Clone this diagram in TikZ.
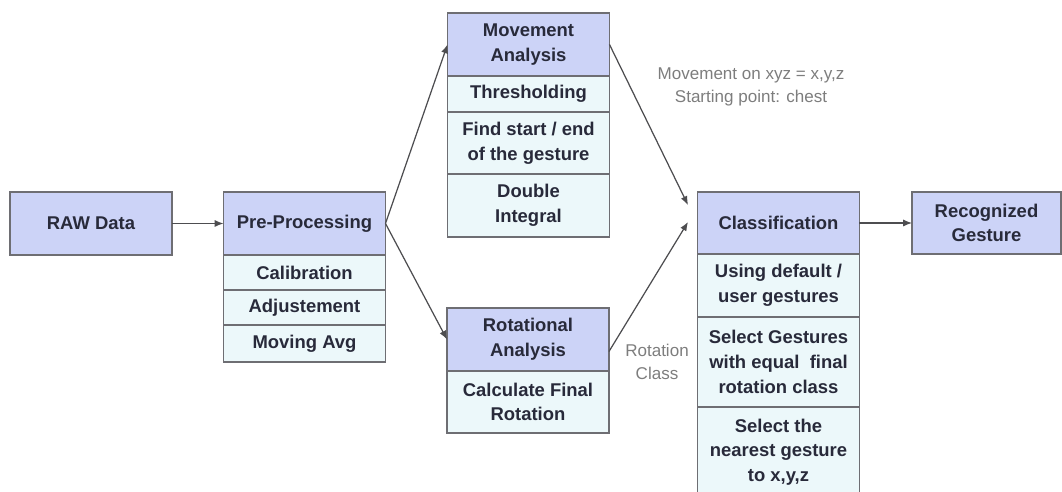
\documentclass[tikz,border=0pt]{standalone}
\usepackage{fontspec}
\setmainfont{Liberation Sans}
\usetikzlibrary{arrows.meta,calc,positioning}
\definecolor{headblue}{RGB}{204,211,247}
\definecolor{rowcyan}{RGB}{236,248,250}
\definecolor{boxline}{RGB}{110,110,115}
\definecolor{boxtext}{RGB}{40,42,58}
\definecolor{notegray}{RGB}{125,125,125}

\begin{document}
\begin{tikzpicture}[x=0.02cm,y=-0.02cm,>={Latex[length=5pt,width=4pt]},
  box/.style={draw=boxline,line width=0.8pt,outer sep=0pt,inner sep=1pt,minimum width=3.24cm,
    align=center,text=boxtext,font=\fontsize{10.5}{14}\selectfont\bfseries},
  head/.style={box,fill=headblue,minimum height=1.26cm},
  row/.style={box,fill=rowcyan,below=0pt of #1},
  note/.style={text=notegray,align=center,font=\fontsize{9.7}{13}\selectfont},
  link/.style={->,draw=boxline!70!black,line width=0.7pt}]
  \useasboundingbox (0,0) rectangle (1062,492);

  \node[head] (raw) at (91,223.5) {RAW Data};

  \node[head] (pre) at (304.5,223.5) {Pre-Processing};
  \node[row=pre,minimum height=0.7cm] (cal) {Calibration};
  \node[row=cal,minimum height=0.7cm] (adj) {Adjustement};
  \node[row=adj,minimum height=0.74cm] (mavg) {Moving Avg};

  \node[head] (mov) at (528.5,44.5) {Movement\\Analysis};
  \node[row=mov,minimum height=0.72cm] (thr) {Thresholding};
  \node[row=thr,minimum height=1.24cm] (fse) {Find start / end\\of the gesture};
  \node[row=fse,minimum height=1.26cm] (dint) {Double\\Integral};

  \node[head] (rot) at (528,339.5) {Rotational\\Analysis};
  \node[row=rot,minimum height=1.24cm] (cfr) {Calculate Final\\Rotation};

  \node[head,minimum height=1.24cm] (cls) at (778.5,223) {Classification};
  \node[row=cls,minimum height=1.26cm] (usr) {Using default /\\user gestures};
  \node[row=usr,minimum height=1.8cm] (sel) {Select Gestures\\with equal~~final\\rotation class};
  \node[row=sel,minimum height=1.8cm] (near) {Select the\\nearest gesture\\to x,y,z};

  \node[head,minimum width=2.98cm,minimum height=1.24cm] (rec) at (986.5,223) {Recognized\\Gesture};

  \node[note] (mnote) at (751,87) {Movement on xyz = x,y,z\\Starting point: chest};
  \node[note] (rnote) at (657,362) {Rotation\\Class};

  \coordinate (cin1) at (688,205);
  \coordinate (cin2) at (688,222);

  \draw[link] (raw) -- (pre);
  \draw[link] (pre.east) -- (mov.west);
  \draw[link] (pre.east) -- (rot.west);
  \draw[link] (mov.east) -- (cin1);
  \draw[link] ($(rot.east)+(0,12)$) -- (cin2);
  \draw[link] (cls) -- (rec);
\end{tikzpicture}
\end{document}
